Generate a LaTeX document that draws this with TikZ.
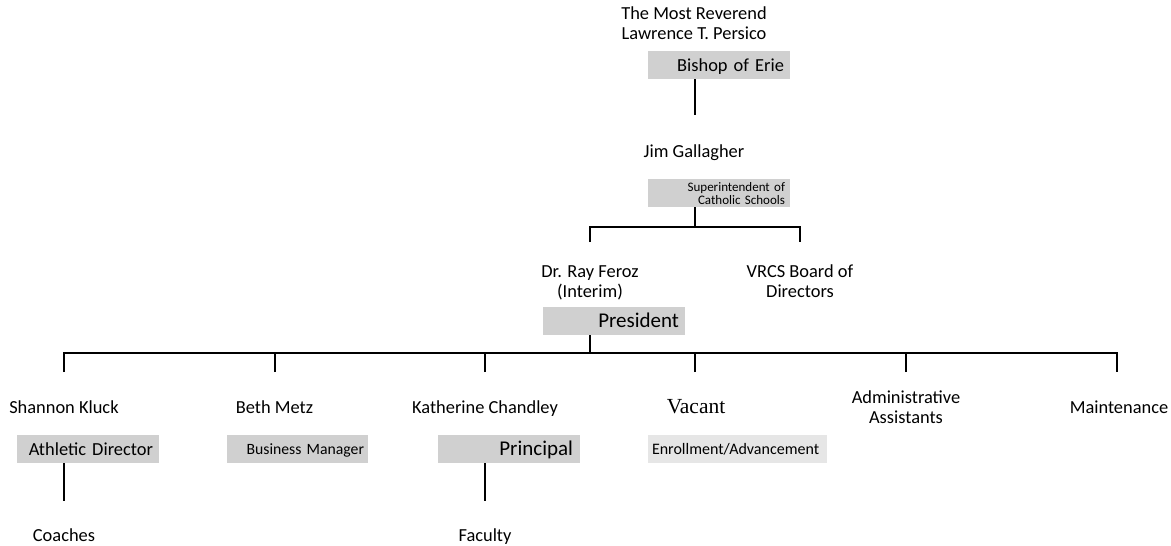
\documentclass[tikz,border=0pt]{standalone}
\usepackage{fontspec}
\setmainfont{Carlito}
\newfontfamily\timesf{Liberation Serif}
\definecolor{boxgray}{RGB}{208,208,208}
\definecolor{lightgray}{RGB}{230,230,230}
\tikzset{
  conn/.style={line width=1.8pt},
  lbl/.style={font=\fontsize{18.4}{20}\selectfont, align=center, inner sep=0pt, anchor=base},
  box/.style={fill=boxgray, minimum height=28pt, inner xsep=6pt, inner ysep=0pt,
    text width=130pt, align=right, text height=12pt, text depth=0pt,
    font=\fontsize{18.4}{20}\selectfont},
  bigbox/.style={box, font=\fontsize{21}{22}\selectfont, text height=13pt},
  smallbox/.style={box, font=\fontsize{15.7}{16}\selectfont, text height=10pt},
}
\begin{document}
\begin{tikzpicture}[x=1pt,y=-1pt]
\useasboundingbox (0,0) rectangle (1171,546);
% level 0
\node[lbl] (tmr) at (694,39) {The Most Reverend\\Lawrence T. Persico};
\node[box] (bishop) at (719,65) {Bishop of Erie};
% level 1
\node[lbl] (jim) at (694,157) {Jim Gallagher};
\node[box, font=\fontsize{13}{13}\selectfont, text height=10pt, text depth=13pt, inner xsep=5pt, text width=132pt] (super) at (719,193) {Superintendent of\\Catholic Schools};
% level 2
\node[lbl] (ray) at (590,297) {Dr. Ray Feroz\\(Interim)};
\node[lbl] (board) at (800,297) {VRCS Board of\\Directors};
\node[bigbox] (pres) at (614,321) {President};
% level 3
\node[lbl] (shannon) at (64,413) {Shannon Kluck};
\node[lbl] (beth) at (274.5,413) {Beth Metz};
\node[lbl] (kath) at (485,413) {Katherine Chandley};
\node[lbl, font=\timesf\fontsize{21.5}{22}\selectfont] (vacant) at (696,413) {Vacant};
\node[lbl] (admin) at (906,423) {Administrative\\Assistants};
\node[lbl] (maint) at (1119,413) {Maintenance};
\node[box] (athletic) at (88,449) {Athletic Director};
\node[smallbox, inner xsep=4pt, text width=133pt] (business) at (297.5,449) {Business Manager};
\node[bigbox, inner xsep=7pt, text width=128pt] (principal) at (509,449) {Principal};
\node[smallbox, font=\fontsize{16}{16}\selectfont, fill=lightgray, inner xsep=4pt, text width=171pt, align=left] (enroll) at (737.5,449) {Enrollment/Advancement};
% level 4
\node[lbl] (coaches) at (64,541) {Coaches};
\node[lbl] (faculty) at (485,541) {Faculty};
% junction coordinates
\coordinate (b1) at (695,115);
\coordinate (jS) at (695,227);
\coordinate (tPres) at (590,242);
\coordinate (tBoard) at (800,242);
\coordinate (jP) at (590,353);
\coordinate (c1) at (64,372);
\coordinate (c2) at (275,372);
\coordinate (c3) at (485,372);
\coordinate (c4) at (695,372);
\coordinate (c5) at (906,372);
\coordinate (c6) at (1117,372);
\coordinate (d1) at (64,501);
\coordinate (d3) at (485,501);
% connectors
\draw[conn] (bishop.south -| b1) -- (b1);
\draw[conn] (super.south -| jS) -- (jS);
\draw[conn] (tPres) |- (jS) -| (tBoard);
\draw[conn] (pres.south -| jP) -- (jP);
\draw[conn] (c1) |- (jP) -| (c6);
\foreach \c in {c2,c3,c4,c5} \draw[conn] (\c) -- (\c |- jP);
\draw[conn] (athletic.south -| d1) -- (d1);
\draw[conn] (principal.south -| d3) -- (d3);
\end{tikzpicture}
\end{document}
